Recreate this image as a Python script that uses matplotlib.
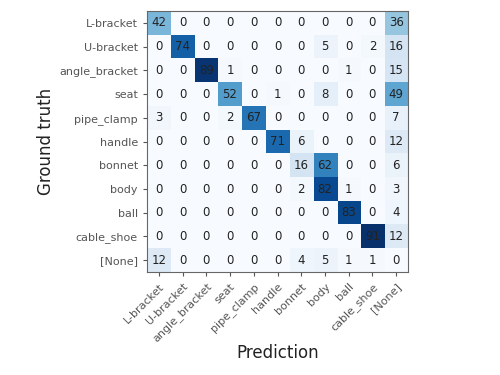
import numpy as np
import matplotlib
matplotlib.use('Agg')
import matplotlib.pyplot as plt

classes = ['L-bracket', 'U-bracket', 'angle_bracket', 'seat', 'pipe_clamp',
           'handle', 'bonnet', 'body', 'ball', 'cable_shoe', '[None]']

counts = [
  [42, 0, 0, 0, 0, 0, 0, 0, 0, 0, 36],
  [0, 74, 0, 0, 0, 0, 0, 5, 0, 2, 16],
  [0, 0, 89, 1, 0, 0, 0, 0, 1, 0, 15],
  [0, 0, 0, 52, 0, 1, 0, 8, 0, 0, 49],
  [3, 0, 0, 2, 67, 0, 0, 0, 0, 0, 7],
  [0, 0, 0, 0, 0, 71, 6, 0, 0, 0, 12],
  [0, 0, 0, 0, 0, 0, 16, 62, 0, 0, 6],
  [0, 0, 0, 0, 0, 0, 2, 82, 1, 0, 3],
  [0, 0, 0, 0, 0, 0, 0, 0, 83, 0, 4],
  [0, 0, 0, 0, 0, 0, 0, 0, 0, 91, 12],
  [12, 0, 0, 0, 0, 0, 4, 5, 1, 1, 0],
]

cm = np.array(counts)

fig = plt.figure(figsize=(5, 3.75), dpi=100)
ax = fig.add_axes([0.294, 0.272, 0.522, 0.701])
ax.imshow(cm, cmap='Blues', vmin=0, vmax=cm.max(), interpolation='nearest')

for i in range(cm.shape[0]):
  for j in range(cm.shape[1]):
    ax.text(j, i, str(cm[i, j]), ha='center', va='center',
            fontsize=8.5, color='#222222')

ticks = np.arange(len(classes))
ax.set_xticks(ticks)
ax.set_yticks(ticks)
ax.set_xticklabels(classes, rotation=45, ha='right', rotation_mode='anchor', fontsize=8, color='#333333')
ax.set_yticklabels(classes, fontsize=8, color='#333333')
ax.tick_params(colors='#555555', length=3)
for s in ax.spines.values():
  s.set_color('#666666')

ax.set_xlabel('Prediction', fontsize=12, color='#222222', labelpad=0)
ax.set_ylabel('Ground truth', fontsize=12, color='#222222', labelpad=3)

fig.savefig('out.png', dpi=100)
